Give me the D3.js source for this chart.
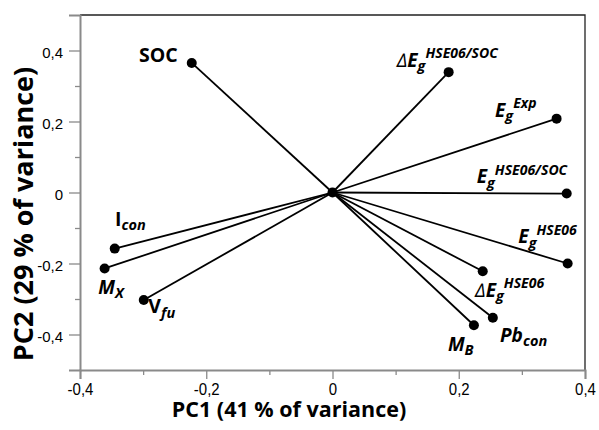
<!DOCTYPE html>
<html>
<head>
<meta charset="utf-8">
<script src="https://cdn.jsdelivr.net/npm/d3@7"></script>
<style>
  html, body { margin: 0; padding: 0; background: #fff; }
  svg { display: block; }
  .lbl { font-family: "Open Sans", sans-serif; font-weight: 700; fill: #000; }
  .tick text { font-family: "Liberation Sans", Arial, sans-serif; }
</style>
</head>
<body>
<svg id="chart" width="599" height="430"></svg>
<script>
// PCA loadings of the variables (PC1, PC2)
const variables = ["SOC", "dEg_HSE06_SOC", "Eg_Exp", "Eg_HSE06_SOC", "Eg_HSE06", "dEg_HSE06", "Pb_con", "M_B", "I_con", "M_X", "V_fu"];
const pc1 = [-0.223, 0.184, 0.355, 0.371, 0.3725, 0.238, 0.254, 0.224, -0.345, -0.361, -0.299];
const pc2 = [0.365, 0.339, 0.208, -0.003, -0.200, -0.222, -0.353, -0.374, -0.158, -0.214, -0.303];
const xTicks = [-0.4, -0.2, 0, 0.2, 0.4];
const yTicks = [-0.4, -0.2, 0, 0.2, 0.4];
const xMinor = [-0.3, -0.1, 0.1, 0.3];
const yMinor = [-0.3, -0.1, 0.1, 0.3];

// Label text pieces: [text, role] where role is main / sub / sup / delta / upright
const labelParts = {
  SOC: [["SOC", "upright"]],
  dEg_HSE06_SOC: [["\u2206", "delta"], ["E", "main"], ["g", "sub"], ["HSE06/SOC", "sup"]],
  Eg_Exp: [["E", "main"], ["g", "sub"], ["Exp", "sup"]],
  Eg_HSE06_SOC: [["E", "main"], ["g", "sub"], ["HSE06/SOC", "sup"]],
  Eg_HSE06: [["E", "main"], ["g", "sub"], ["HSE06", "sup"]],
  dEg_HSE06: [["\u2206", "delta"], ["E", "main"], ["g", "sub"], ["HSE06", "sup"]],
  Pb_con: [["Pb", "main"], ["con", "sub"]],
  M_B: [["M", "main"], ["B", "sub"]],
  I_con: [["I", "upright"], ["con", "sub"]],
  M_X: [["M", "main"], ["X", "sub"]],
  V_fu: [["V", "upright"], ["fu", "sub"]]
};

// Label placement relative to each point (pixels): dx, dy to baseline, anchor
const labelPlace = {
  SOC: [-14, -1, "end"],
  dEg_HSE06_SOC: [-52, -5.5, "start"],
  Eg_Exp: [-61.6, -2, "start"],
  Eg_HSE06_SOC: [-90, -10.3, "start"],
  Eg_HSE06: [-49.3, -20.2, "start"],
  dEg_HSE06: [-7.7, 25.4, "start"],
  Pb_con: [7.2, 23.9, "start"],
  M_B: [-26, 25.7, "start"],
  I_con: [0.3, -22.6, "start"],
  M_X: [-6.3, 25.5, "start"],
  V_fu: [4.6, 13.2, "start"]
};

const svg = d3.select("#chart");
const x = d3.scaleLinear().domain([-0.4, 0.4]).range([80, 585]);
const y = d3.scaleLinear().domain([-0.5, 0.5]).range([370, 15]);

const fmt = v => v === 0 ? "0" : v.toFixed(1).replace(".", ",");
const axisGrey = "#8a8a8a";

// frame: top and right edges
svg.append("path")
  .attr("d", `M${x(-0.4)},${y(0.5)}H${x(0.4)}V${y(-0.5)}`)
  .attr("fill", "none").attr("stroke", "#222").attr("stroke-width", 1.3);

// minor ticks
const gxMinor = svg.append("g").attr("transform", `translate(0,${y(-0.5)})`)
  .call(d3.axisBottom(x).tickValues(xMinor).tickSize(5).tickFormat(""));
const gyMinor = svg.append("g").attr("transform", `translate(${x(-0.4)},0)`)
  .call(d3.axisLeft(y).tickValues(yMinor).tickSize(5).tickFormat(""));
[gxMinor, gyMinor].forEach(g => {
  g.select(".domain").remove();
  g.selectAll("line").attr("stroke", axisGrey).attr("stroke-width", 1.3);
});

// major axes
const gx = svg.append("g").attr("transform", `translate(0,${y(-0.5)})`)
  .call(d3.axisBottom(x).tickValues(xTicks).tickSize(9).tickPadding(4).tickFormat(fmt));
const gy = svg.append("g").attr("transform", `translate(${x(-0.4)},0)`)
  .call(d3.axisLeft(y).tickValues(yTicks).tickSize(11).tickPadding(6).tickFormat(fmt));
[gx, gy].forEach(g => {
  g.select(".domain").attr("stroke", axisGrey).attr("stroke-width", 2);
  g.selectAll(".tick line").attr("stroke", axisGrey).attr("stroke-width", 1.3);
  g.selectAll(".tick text").attr("fill", "#000").attr("font-size", 15);
});
gx.selectAll(".tick text").attr("transform", "translate(0,-1.5) scale(1,1.1)");
gy.selectAll(".tick text").attr("dy", "0.45em");

// axis titles
svg.append("text").attr("class", "lbl")
  .attr("x", 289).attr("y", 417).attr("text-anchor", "middle")
  .attr("font-size", 21.5).text("PC1 (41 % of variance)");
svg.append("text").attr("class", "lbl")
  .attr("transform", "translate(33,214) rotate(-90)").attr("text-anchor", "middle")
  .attr("font-size", 27).text("PC2 (29 % of variance)");

// loading vectors
const rows = variables.map((name, i) => ({ name, pc1: pc1[i], pc2: pc2[i] }));
svg.append("g").selectAll("line").data(rows).join("line")
  .attr("x1", x(0)).attr("y1", y(0))
  .attr("x2", d => x(d.pc1)).attr("y2", d => y(d.pc2))
  .attr("stroke", "#000").attr("stroke-width", 1.8);

svg.append("g").selectAll("circle").data(rows).join("circle")
  .attr("cx", d => x(d.pc1)).attr("cy", d => y(d.pc2)).attr("r", 5).attr("fill", "#000");
svg.append("circle").attr("cx", x(0)).attr("cy", y(0)).attr("r", 5).attr("fill", "#000");

// variable labels with subscripts / superscripts
const roleStyle = {
  upright: { size: 19.5, italic: false, weight: 700, dy: 0 },
  main: { size: 19, italic: true, weight: 700, dy: 0 },
  delta: { size: 19, italic: true, weight: 400, dy: 0 },
  sub: { size: 14.5, italic: true, weight: 700, dy: 4.5 },
  sup: { size: 14, italic: true, weight: 700, dy: -8.5 }
};
rows.forEach(d => {
  const [dx, dy, anchor] = labelPlace[d.name];
  const t = svg.append("text").attr("class", "lbl")
    .attr("x", x(d.pc1) + dx).attr("y", y(d.pc2) + dy)
    .attr("text-anchor", anchor);
  let level = 0;
  labelParts[d.name].forEach(([txt, role]) => {
    const s = roleStyle[role];
    t.append("tspan")
      .attr("dy", s.dy - level)
      .attr("font-size", s.size)
      .attr("font-style", s.italic ? "italic" : "normal")
      .attr("font-weight", s.weight)
      .text(txt);
    level = s.dy;
  });
});
</script>
</body>
</html>
